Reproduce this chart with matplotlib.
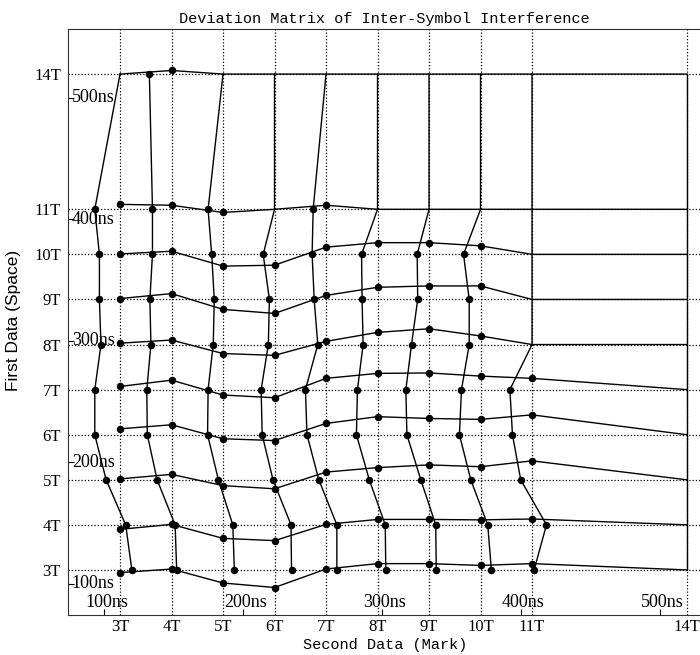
import numpy as np
import matplotlib
matplotlib.use("Agg")
import matplotlib.pyplot as plt

# Nominal run lengths (in channel bits T)
SPACE = [3, 4, 5, 6, 7, 8, 9, 10, 11, 14]   # first data (space)
MARK = [3, 4, 5, 6, 7, 8, 9, 10, 11, 14]    # second data (mark)
TICK_LABELS = ["3T", "4T", "5T", "6T", "7T", "8T", "9T", "10T", "11T", "14T"]

# Channel clock period in ns, and the time ticks
T_NS = 37.1
NS_TICKS = [100, 200, 300, 400, 500]
NS_LABELS = ["100ns", "200ns", "300ns", "400ns", "500ns"]

nan = np.nan
# Measured space length (in T) for each (space row, following mark column)
space_meas = np.array([
    [2.94, 3.02, 2.71, 2.61, 3.02, 3.14, 3.14, 3.10, 3.14, nan],
    [3.90, 4.01, 3.70, 3.65, 4.01, 4.12, 4.12, 4.11, 4.13, nan],
    [5.02, 5.12, 4.87, 4.80, 5.17, 5.27, 5.33, 5.29, 5.42, nan],
    [6.13, 6.22, 5.91, 5.87, 6.25, 6.40, 6.36, 6.34, 6.44, nan],
    [7.07, 7.21, 6.88, 6.82, 7.25, 7.36, 7.37, 7.30, 7.25, nan],
    [8.03, 8.10, 7.80, 7.76, 8.07, 8.27, 8.35, 8.19, nan, nan],
    [9.02, 9.13, 8.78, 8.69, 9.09, 9.27, 9.30, 9.30, nan, nan],
    [10.01, 10.07, 9.74, 9.76, 10.16, 10.26, 10.26, 10.19, nan, nan],
    [11.11, 11.09, 10.93, nan, 11.09, nan, nan, nan, nan, nan],
    [nan, 14.08, nan, nan, nan, nan, nan, nan, nan, nan],
])

# Measured mark length (in T) for each (preceding space row, mark column)
mark_meas = np.array([
    [3.23, 4.10, 5.22, 6.33, 7.21, 8.16, 9.14, 10.21, 11.04, nan],
    [3.11, 4.07, 5.19, 6.32, 7.21, 8.15, 9.13, 10.14, 11.28, nan],
    [2.73, 3.72, 4.91, 5.97, 6.86, 7.84, 8.84, 9.81, 10.78, nan],
    [2.51, 3.53, 4.70, 5.76, 6.63, 7.59, 8.57, 9.59, 10.62, nan],
    [2.51, 3.52, 4.71, 5.74, 6.60, 7.61, 8.55, 9.63, 10.57, nan],
    [2.63, 3.60, 4.81, 5.88, 6.84, 7.72, 8.66, 9.78, nan, nan],
    [2.60, 3.58, 4.83, 5.90, 6.77, 7.70, 8.78, 9.78, nan, nan],
    [2.60, 3.63, 4.78, 5.78, 6.73, 7.69, 8.77, 9.67, nan, nan],
    [2.51, 3.63, 4.71, nan, 6.75, nan, nan, nan, nan, nan],
    [nan, 3.57, nan, nan, nan, nan, nan, nan, nan, nan],
])

W, H = 700, 655
fig = plt.figure(figsize=(W / 100, H / 100), dpi=100)
ax = fig.add_axes([68 / W, 1 - 615 / H, (702 - 68) / W, (615 - 29) / H])
ax.set_xlim(1.99, 14.30)
ax.set_ylim(2.0, 15.0)

# Dotted grid on the nominal run lengths
ax.set_xticks(MARK)
ax.set_xticklabels(TICK_LABELS, family="Liberation Serif", fontsize=12)
ax.set_yticks(SPACE)
ax.set_yticklabels(TICK_LABELS, family="Liberation Serif", fontsize=12)
ax.tick_params(axis="both", which="major", length=0)
ax.tick_params(axis="x", which="major", pad=3)
ax.tick_params(axis="y", which="major", pad=5)
ax.grid(True, which="major", color="black", linestyle=(0, (1, 1.6)), linewidth=0.9)

# Time ticks (ns) drawn inward with labels inside the frame
ns_pos = [v / T_NS for v in NS_TICKS]
ax.set_xticks(ns_pos, minor=True)
ax.set_yticks(ns_pos, minor=True)
ax.tick_params(axis="both", which="minor", direction="in", length=4, width=0.8,
               labelleft=False, labelbottom=False)
for p, lab in zip(ns_pos, NS_LABELS):
    ax.text(0.006, p, lab, transform=ax.get_yaxis_transform(), ha="left",
            va="center", family="Liberation Serif", fontsize=13)
    ax.text(p + 0.05, 0.021, lab, transform=ax.get_xaxis_transform(), ha="center",
            va="center", family="Liberation Serif", fontsize=13)

for sp in ax.spines.values():
    sp.set_linewidth(0.8)
    sp.set_color("#333333")

line_kw = dict(color="black", linewidth=1.0, zorder=3)
dot_kw = dict(color="black", linestyle="none", marker="o", markersize=4.4, zorder=4)

# Horizontal curves: space length versus following mark
for i, s in enumerate(SPACE):
    meas = space_meas[i]
    y = np.where(np.isnan(meas), s, meas)
    ax.plot(MARK, y, **line_kw)
    ok = ~np.isnan(meas)
    ax.plot(np.array(MARK)[ok], meas[ok], **dot_kw)

# Vertical curves: mark length versus preceding space
for j, m in enumerate(MARK):
    meas = mark_meas[:, j]
    x = np.where(np.isnan(meas), m, meas)
    ax.plot(x, SPACE, **line_kw)
    ok = ~np.isnan(meas)
    ax.plot(meas[ok], np.array(SPACE)[ok], **dot_kw)

fig.text(384 / W, 1 - 19 / H, "Deviation Matrix of Inter-Symbol Interference",
         ha="center", va="center", family="Liberation Mono", fontsize=11)
fig.text(385 / W, 1 - 645 / H, "Second Data (Mark)",
         ha="center", va="center", family="Liberation Mono", fontsize=11)
fig.text(14 / W, 1 - 320 / H, "First Data (Space)", rotation=90,
         ha="center", va="center", family="Liberation Sans", fontsize=12.5)

fig.savefig("out.png", dpi=100)
